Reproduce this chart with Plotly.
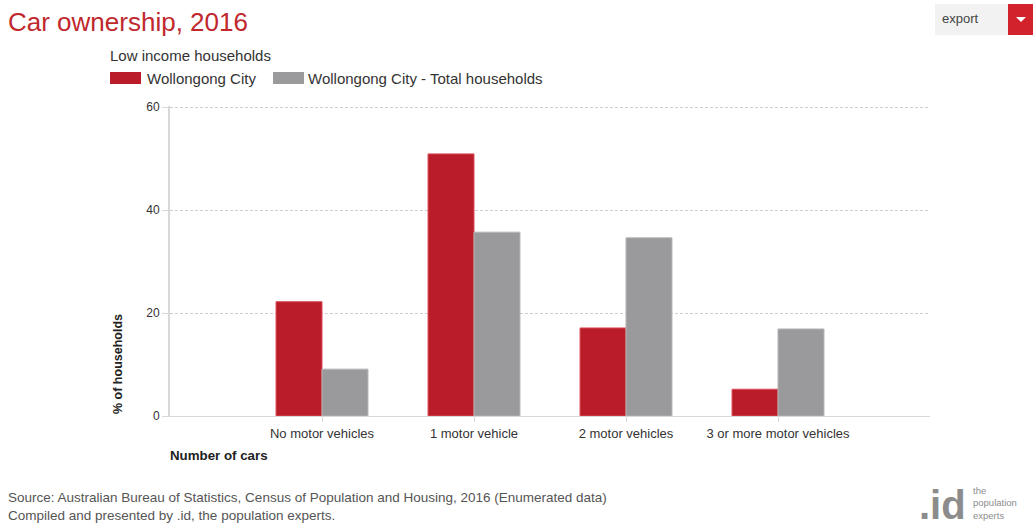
import plotly.graph_objects as go

categories = ["No motor vehicles", "1 motor vehicle", "2 motor vehicles", "3 or more motor vehicles"]
wollongong_low_income = [22.2, 50.9, 17.1, 5.2]
wollongong_total = [9.1, 35.7, 34.6, 16.9]
y_ticks = [0, 20, 40, 60]
series_names = ["Wollongong City", "Wollongong City - Total households"]

RED = "#BA1C29"
GRAY = "#9A999B"
FONT = "Arial, Liberation Sans, sans-serif"

fig = go.Figure()
fig.add_trace(go.Bar(
    x=categories, y=wollongong_low_income, name=series_names[0],
    marker=dict(color=RED, line=dict(color="#D9505A", width=1)),
))
fig.add_trace(go.Bar(
    x=categories, y=wollongong_total, name=series_names[1],
    marker=dict(color=GRAY, line=dict(color="#B5B4B6", width=1)),
))

fig.update_layout(
    width=1033, height=529,
    margin=dict(l=170, r=103, t=106, b=113),
    paper_bgcolor="white", plot_bgcolor="white",
    font=dict(family=FONT, size=12, color="#333"),
    barmode="group", bargap=0.395, bargroupgap=0,
    showlegend=False,
    xaxis=dict(
        type="category", range=[-1, 4],
        showgrid=False, showline=True, linecolor="#D8D8D8", linewidth=1,
        ticks="outside", ticklen=5, tickcolor="#D8D8D8",
        tickfont=dict(size=13, color="#333"),
        fixedrange=True,
    ),
    yaxis=dict(
        range=[0, 60.2], tickvals=y_ticks,
        showgrid=True, gridcolor="#CFCFCF", griddash="3px,2px", gridwidth=1,
        showline=True, linecolor="#D8D8D8", linewidth=2,
        ticks="outside", ticklen=6, tickcolor="#D8D8D8",
        tickfont=dict(size=12, color="#333"),
        zeroline=False, fixedrange=True,
    ),
)

PLOT_TOP = 106
PLOT_H = 310

def px(xp):
    return (xp - 170) / 760

def py(yp):
    return (PLOT_TOP + PLOT_H - yp) / PLOT_H

# Title
fig.add_annotation(text="Car ownership, 2016", xref="paper", yref="paper",
                   x=px(6), y=py(22), xanchor="left", yanchor="middle",
                   showarrow=False, font=dict(size=26, color="#C0282D", family=FONT))
# Manual legend
fig.add_annotation(text="Low income households", xref="paper", yref="paper",
                   x=px(108), y=py(56), xanchor="left", yanchor="middle",
                   showarrow=False, font=dict(size=15, color="#333", family=FONT))
legend_items = [(110, 141, RED, 145), (273, 304, GRAY, 306)]
for (x0, x1, col, tx), name in zip(legend_items, series_names):
    fig.add_shape(type="rect", xref="paper", yref="paper",
                  x0=px(x0), x1=px(x1), y0=py(84), y1=py(72),
                  fillcolor=col, line=dict(width=0))
    fig.add_annotation(text=name, xref="paper", yref="paper",
                       x=px(tx), y=py(78), xanchor="left", yanchor="middle",
                       showarrow=False, font=dict(size=15, color="#333", family=FONT))
# Axis titles
fig.add_annotation(text="<b>% of households</b>", xref="paper", yref="paper",
                   x=px(118), y=py(364), xanchor="center", yanchor="middle",
                   textangle=-90, showarrow=False, font=dict(size=12.5, color="#222", family=FONT))
fig.add_annotation(text="<b>Number of cars</b>", xref="paper", yref="paper",
                   x=px(168), y=py(455), xanchor="left", yanchor="middle",
                   showarrow=False, font=dict(size=13.3, color="#222", family=FONT))
# Source
fig.add_annotation(text="Source: Australian Bureau of Statistics, Census of Population and Housing, 2016 (Enumerated data)<br>Compiled and presented by .id, the population experts.",
                   xref="paper", yref="paper", x=px(6), y=py(488),
                   xanchor="left", yanchor="top", align="left", showarrow=False,
                   font=dict(size=13.5, color="#555", family=FONT))
# Logo
fig.add_annotation(text="<b>.id</b>", xref="paper", yref="paper",
                   x=px(968), y=py(505), xanchor="right", yanchor="middle",
                   showarrow=False, font=dict(size=40, color="#8C8C8C", family=FONT))
fig.add_annotation(text="the<br>population<br>experts", xref="paper", yref="paper",
                   x=px(971), y=py(503), xanchor="left", yanchor="middle",
                   align="left", showarrow=False,
                   font=dict(size=9.5, color="#8C8C8C", family=FONT))
# Export button
fig.add_shape(type="rect", xref="paper", yref="paper",
              x0=px(935), x1=px(1008), y0=py(35), y1=py(4),
              fillcolor="#F2F2F2", line=dict(width=0), layer="above")
fig.add_shape(type="rect", xref="paper", yref="paper",
              x0=px(1008), x1=px(1033), y0=py(35), y1=py(4),
              fillcolor="#D2222C", line=dict(width=0), layer="above")
fig.add_shape(type="path", xref="paper", yref="paper",
              path=f"M {px(1016)} {py(17)} L {px(1026)} {py(17)} L {px(1021)} {py(22)} Z",
              fillcolor="white", line=dict(width=0), layer="above")
fig.add_annotation(text="export", xref="paper", yref="paper",
                   x=px(940), y=py(19), xanchor="left", yanchor="middle",
                   showarrow=False, font=dict(size=13, color="#444", family=FONT))

fig.write_html("out.html", config={"displayModeBar": False})
